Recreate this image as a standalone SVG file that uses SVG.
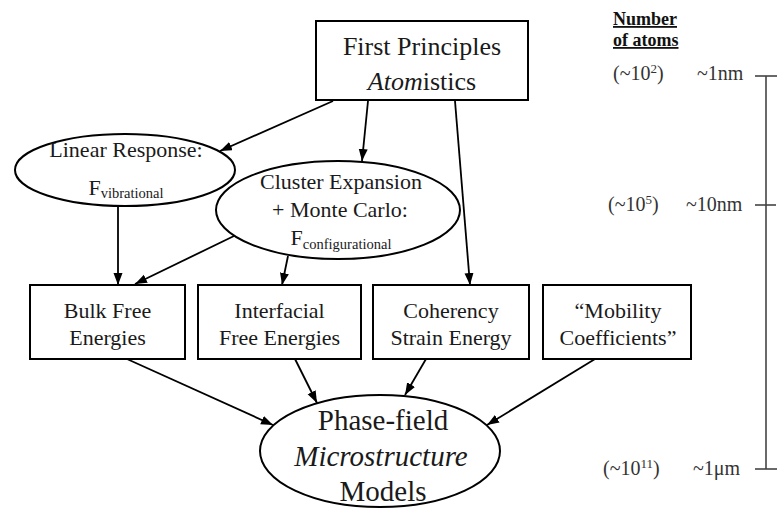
<svg xmlns="http://www.w3.org/2000/svg" width="781" height="511" viewBox="0 0 781 511">
<defs>
<marker id="ah" markerUnits="userSpaceOnUse" markerWidth="13" markerHeight="10" refX="12" refY="4.5" orient="auto">
<path d="M0,0 L12,4.5 L0,9 z" fill="#000"/>
</marker>
<style>
text{font-family:"Liberation Serif","Times New Roman",serif;fill:#1a1a1a;text-anchor:middle}
.shape{fill:#fff;stroke:#000;stroke-width:2}
.l22{font-size:22px}
.l26{font-size:26px}
.l29{font-size:29px}
.sub{font-size:14.5px}
.it{font-style:italic}
.arr{fill:none;stroke:#000;stroke-width:1.8;marker-end:url(#ah)}
.scale{font-size:20px;text-anchor:start;fill:#333}
.hdr{font-size:18px;font-weight:bold;text-anchor:start;text-decoration:underline;fill:#111}
.sup{font-size:13px}
.tick{stroke:#444;stroke-width:1.6;fill:none}
</style>
</defs>
<rect width="781" height="511" fill="#fff"/>

<g id="connectors">
<line class="arr" x1="333" y1="101" x2="220" y2="151"/>
<line class="arr" x1="368" y1="101" x2="362" y2="161"/>
<line class="arr" x1="455" y1="101" x2="470" y2="285"/>
<line class="arr" x1="118" y1="206" x2="118" y2="285"/>
<line class="arr" x1="234" y1="236" x2="135" y2="284"/>
<line class="arr" x1="288" y1="256" x2="282" y2="285"/>
<line class="arr" x1="127" y1="359" x2="273" y2="425"/>
<line class="arr" x1="295" y1="359" x2="317" y2="403"/>
<line class="arr" x1="426" y1="359" x2="405" y2="395"/>
<line class="arr" x1="595" y1="359" x2="487" y2="425"/>
</g>

<g id="first-principles">
<rect class="shape" x="316" y="21" width="212" height="79"/>
<text class="l26" x="422" y="55">First Principles</text>
<text class="l26" x="422" y="90"><tspan class="it">Atom</tspan>istics</text>
</g>

<g id="linear-response">
<ellipse class="shape" cx="125" cy="170" rx="110" ry="36"/>
<text class="l22" x="126" y="157">Linear Response:</text>
<text class="l22" x="126" y="195">F<tspan class="sub" dy="3">vibrational</tspan></text>
</g>

<g id="cluster-expansion">
<ellipse class="shape" cx="338" cy="210" rx="122" ry="49"/>
<text class="l22" x="341" y="189">Cluster Expansion</text>
<text class="l22" x="340" y="217">+ Monte Carlo:</text>
<text class="l22" x="341" y="245">F<tspan class="sub" dy="4">configurational</tspan></text>
</g>

<g id="bulk-free-energies">
<rect class="shape" x="30" y="285" width="155" height="74"/>
<text class="l22" x="107.5" y="318">Bulk Free</text>
<text class="l22" x="107.5" y="345">Energies</text>
</g>

<g id="interfacial-free-energies">
<rect class="shape" x="198" y="285" width="163" height="74"/>
<text class="l22" x="279.5" y="318">Interfacial</text>
<text class="l22" x="279.5" y="345">Free Energies</text>
</g>

<g id="coherency-strain-energy">
<rect class="shape" x="373" y="285" width="156" height="74"/>
<text class="l22" x="451" y="318">Coherency</text>
<text class="l22" x="451" y="345">Strain Energy</text>
</g>

<g id="mobility-coefficients">
<rect class="shape" x="543" y="285" width="148" height="74"/>
<text class="l22" x="618" y="318">“Mobility</text>
<text class="l22" x="618" y="345">Coefficients”</text>
</g>

<g id="phase-field">
<ellipse class="shape" cx="380" cy="451" rx="120" ry="56"/>
<text class="l29" x="383" y="430">Phase-field</text>
<text class="l29 it" x="381" y="466">Microstructure</text>
<text class="l29" x="383" y="501">Models</text>
</g>

<g id="scale">
<text class="hdr" x="613" y="25">Number</text>
<text class="hdr" x="613" y="46">of atoms</text>
<line class="tick" x1="766" y1="76" x2="766" y2="469"/>
<line class="tick" x1="755" y1="76" x2="777" y2="76"/>
<line class="tick" x1="755" y1="205" x2="776" y2="205"/>
<line class="tick" x1="755" y1="469" x2="777" y2="469"/>
<text class="scale" x="613" y="80">(~10<tspan class="sup" dy="-7">2</tspan><tspan dy="7">)</tspan></text>
<text class="scale" x="697" y="80">~1nm</text>
<text class="scale" x="608" y="211">(~10<tspan class="sup" dy="-7">5</tspan><tspan dy="7">)</tspan></text>
<text class="scale" x="686" y="211">~10nm</text>
<text class="scale" x="603" y="475">(~10<tspan class="sup" dy="-7">11</tspan><tspan dy="7">)</tspan></text>
<text class="scale" x="693" y="475">~1μm</text>
</g>
</svg>
